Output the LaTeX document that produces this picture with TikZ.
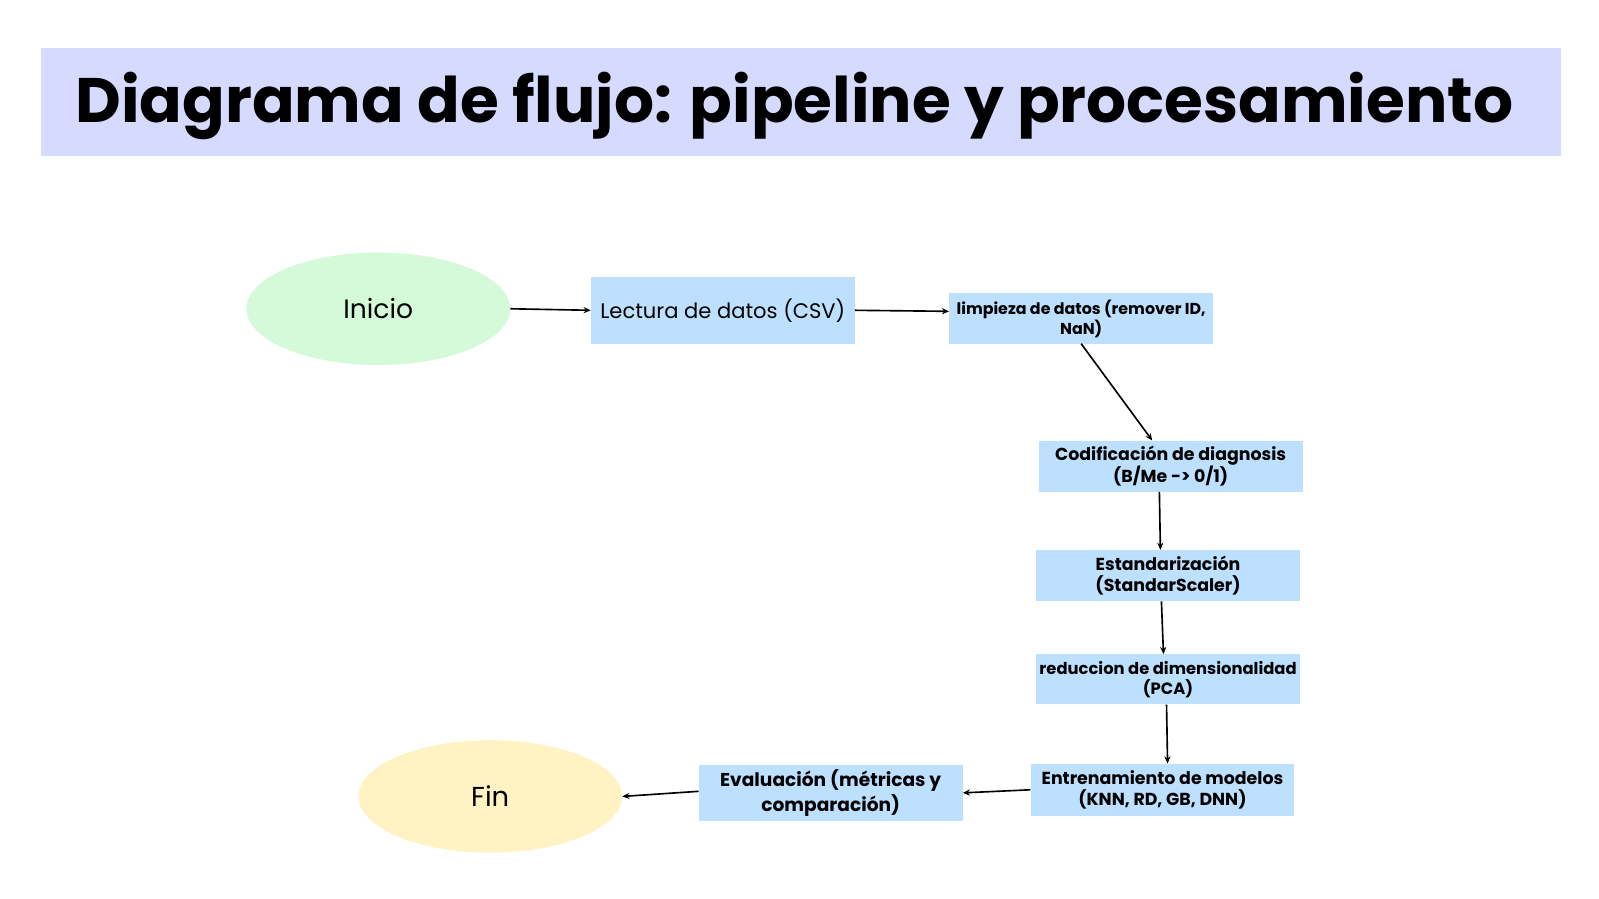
\documentclass[tikz,border=0pt]{standalone}
\usepackage{fontspec}
\setmainfont{Poppins}
\usetikzlibrary{shapes.geometric,arrows.meta}
\definecolor{titleband}{RGB}{214,218,254}
\definecolor{boxblue}{RGB}{189,224,254}
\definecolor{startgreen}{RGB}{212,250,217}
\definecolor{endyellow}{RGB}{255,243,196}
\begin{document}
\begin{tikzpicture}[x=1pt, y=-1pt,
    stepbox/.style={rectangle, fill=boxblue, minimum width=258pt, align=center, inner sep=2pt},
    terminal/.style={ellipse, minimum width=258pt, minimum height=110pt},
    flow/.style={-{Stealth[length=7pt, width=6pt]}, line width=1.6pt}]
        \useasboundingbox (0, 0) rectangle (1564, 879);
        % Title
        \fill[titleband] (40, 47) rectangle (1527, 153);
        \node[font=\fontsize{61.5}{70}\selectfont\bfseries] (title) at (777, 104) {Diagrama de flujo: pipeline y procesamiento};

        % Start and end
        \node[terminal, fill=startgreen, font=\fontsize{26}{30}\selectfont] (inicio) at (370, 302) {Inicio};
        \node[terminal, fill=endyellow, font=\fontsize{26.8}{30}\selectfont] (fin) at (479.5, 779) {Fin};

        % Steps
        \node[stepbox, minimum height=65pt, font=\fontsize{20.6}{26}\selectfont] (lectura) at (707, 303.5) {Lectura de datos (CSV)};
        \node[stepbox, minimum height=49pt, font=\fontsize{15.5}{19.5}\selectfont\bfseries] (limpieza) at (1057.5, 311.5) {limpieza de datos (remover ID,\\NaN)};
        \node[stepbox, minimum height=50pt, font=\fontsize{17}{21}\selectfont\bfseries] (codif) at (1145, 456) {Codificación de diagnosis\\(B/Me -> 0/1)};
        \node[stepbox, minimum height=50pt, font=\fontsize{17}{21}\selectfont\bfseries] (estand) at (1142.5, 563) {Estandarización\\(StandarScaler)};
        \node[stepbox, minimum height=49pt, font=\fontsize{16}{20}\selectfont\bfseries] (reduc) at (1142.5, 664.5) {reduccion de dimensionalidad\\(PCA)};
        \node[stepbox, minimum height=51pt, font=\fontsize{17}{21}\selectfont\bfseries] (entren) at (1137, 772.5) {Entrenamiento de modelos\\(KNN, RD, GB, DNN)};
        \node[stepbox, minimum height=55pt, font=\fontsize{18.2}{24.5}\selectfont\bfseries] (evalua) at (812.5, 775.5) {Evaluación (métricas y\\comparación)};

        % Arrows
        \draw[flow] (inicio.east) -- (lectura.west);
        \draw[flow] (lectura.east) -- ([yshift=7pt]limpieza.west);
        \draw[flow] (limpieza.south) -- ([xshift=-18pt]codif.north);
        \draw[flow] ([xshift=-11pt]codif.south) -- ([xshift=-7.5pt]estand.north);
        \draw[flow] ([xshift=-6.5pt]estand.south) -- ([xshift=-4.5pt]reduc.north);
        \draw[flow] ([xshift=-1.5pt]reduc.south) -- ([xshift=5pt]entren.north);
        \draw[flow] (entren.west) -- (evalua.east);
        \draw[flow] ([yshift=1.5pt]evalua.west) -- (fin.east);
    \end{tikzpicture}
\end{document}
